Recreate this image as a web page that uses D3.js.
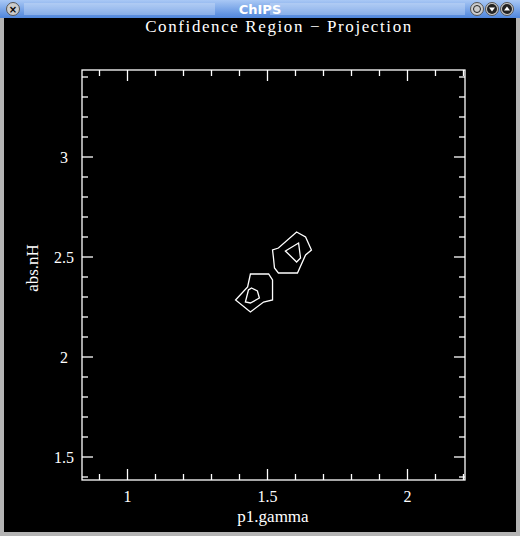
<!DOCTYPE html>
<html><head><meta charset="utf-8">
<script src="https://cdn.jsdelivr.net/npm/d3@7"></script>
<style>body{margin:0;background:#000;overflow:hidden}</style>
</head><body><svg id="c"></svg>
<script>
const xTicks = [1, 1.5, 2];
const yTicks = [1.5, 2, 2.5, 3];
// contour levels: [p1.gamma, abs.nH]
const upperOuter = [[1.604,2.625],[1.636,2.60],[1.657,2.535],[1.636,2.51],[1.607,2.42],[1.539,2.42],[1.525,2.445],[1.521,2.50],[1.518,2.535],[1.539,2.545]];
const upperInner = [[1.564,2.53],[1.611,2.57],[1.618,2.495],[1.604,2.475]];
const lowerOuter = [[1.439,2.415],[1.504,2.415],[1.518,2.385],[1.518,2.285],[1.486,2.275],[1.439,2.225],[1.386,2.285],[1.429,2.35]];
const lowerInner = [[1.443,2.345],[1.464,2.33],[1.471,2.295],[1.439,2.27],[1.421,2.275],[1.432,2.335]];
const contours = [upperOuter, upperInner, lowerOuter, lowerInner];

const W = 520, H = 536;
const svg = d3.select('#c').attr('width', W).attr('height', H);

// window frame
const defs = svg.append('defs');
const g1 = defs.append('linearGradient').attr('id','tb').attr('x1',0).attr('y1',0).attr('x2',0).attr('y2',1);
g1.append('stop').attr('offset','0%').attr('stop-color','#a9c8f5');
g1.append('stop').attr('offset','100%').attr('stop-color','#4f86dc');
svg.append('rect').attr('width',W).attr('height',H).attr('fill','#b4b4b4');
svg.append('rect').attr('x',4).attr('y',18).attr('width',W-8).attr('height',H-22).attr('fill','#000');
svg.append('rect').attr('width',W).attr('height',18).attr('fill','url(#tb)');
for (let y = 4; y < 15; y += 2) {
  svg.append('line').attr('x1',24).attr('x2',215).attr('y1',y).attr('y2',y).attr('stroke','#dbe8fb').attr('stroke-width',0.7);
  svg.append('line').attr('x1',270).attr('x2',465).attr('y1',y).attr('y2',y).attr('stroke','#dbe8fb').attr('stroke-width',0.7);
}
svg.append('text').attr('x',W/2).attr('y',14).attr('text-anchor','middle')
  .attr('font-family','DejaVu Sans').attr('font-weight','bold').attr('font-size',13).attr('fill','#fff').text('ChIPS');
[[13,'x'],[477,'o'],[492,'v'],[507,'^']].forEach(([cx,k]) => {
  svg.append('circle').attr('cx',cx).attr('cy',9).attr('r',6.5).attr('fill','#ccc').attr('stroke','#555');
  if (k==='o') svg.append('circle').attr('cx',cx).attr('cy',9).attr('r',3.5).attr('fill','none').attr('stroke','#222');
  else if (k==='x') svg.append('text').attr('x',cx).attr('y',12.5).attr('text-anchor','middle').attr('font-size',10).attr('font-weight','bold').attr('font-family','DejaVu Sans').text('×');
  else { svg.append('circle').attr('cx',cx).attr('cy',9).attr('r',5).attr('fill','#222');
    svg.append('path').attr('d', k==='v' ? `M${cx-3},7.5 L${cx+3},7.5 L${cx},11.5Z` : `M${cx-3},10.5 L${cx+3},10.5 L${cx},6.5Z`).attr('fill','#fff'); }
});

// plot
const m = {l:82, r:465, t:70, b:480};
const x = d3.scaleLinear().domain([0.8375, 2.2054]).range([m.l, m.r]);
const y = d3.scaleLinear().domain([1.385, 3.435]).range([m.b, m.t]);
const serif = 'Liberation Serif';
const ink = '#fff';

svg.append('rect').attr('x',m.l).attr('y',m.t).attr('width',m.r-m.l).attr('height',m.b-m.t)
  .attr('fill','none').attr('stroke',ink).attr('stroke-width',1.3);

const xMinor = d3.range(0.9, 2.21, 0.1).map(v => +v.toFixed(2));
const yMinor = d3.range(1.4, 3.41, 0.1).map(v => +v.toFixed(2));
const isMajor = v => Math.abs(v*2 - Math.round(v*2)) < 1e-6;
const tk = svg.append('g').attr('stroke',ink).attr('stroke-width',1.3);
xMinor.forEach(v => {
  const L = isMajor(v) ? 11 : 6;
  tk.append('line').attr('x1',x(v)).attr('x2',x(v)).attr('y1',m.b).attr('y2',m.b-L);
  tk.append('line').attr('x1',x(v)).attr('x2',x(v)).attr('y1',m.t).attr('y2',m.t+L);
});
yMinor.forEach(v => {
  const L = isMajor(v) ? 11 : 6;
  tk.append('line').attr('y1',y(v)).attr('y2',y(v)).attr('x1',m.l).attr('x2',m.l+L);
  tk.append('line').attr('y1',y(v)).attr('y2',y(v)).attr('x1',m.r).attr('x2',m.r-L);
});

xTicks.forEach(v => svg.append('text').attr('x',x(v)).attr('y',502).attr('text-anchor','middle')
  .attr('font-family',serif).attr('font-size',16).attr('fill',ink).text(v));
yTicks.forEach(v => svg.append('text').attr('x',64).attr('y',y(v)+6).attr('text-anchor','middle')
  .attr('font-family',serif).attr('font-size',16).attr('fill',ink).text(v));

svg.append('text').attr('x',279).attr('y',32).attr('text-anchor','middle')
  .attr('font-family',serif).attr('font-size',17).attr('letter-spacing',1.6).attr('fill',ink).text('Confidence Region \u2212 Projection');
svg.append('text').attr('x',273).attr('y',522).attr('text-anchor','middle')
  .attr('font-family',serif).attr('font-size',17).attr('fill',ink).text('p1.gamma');
svg.append('text').attr('transform','translate(38,268) rotate(-90)').attr('text-anchor','middle')
  .attr('font-family',serif).attr('font-size',17).attr('fill',ink).text('abs.nH');

const line = d3.line().x(d => x(d[0])).y(d => y(d[1])).curve(d3.curveLinearClosed);
svg.append('g').selectAll('path').data(contours).join('path')
  .attr('d', line).attr('fill','none').attr('stroke',ink).attr('stroke-width',1.3);
</script></body></html>
